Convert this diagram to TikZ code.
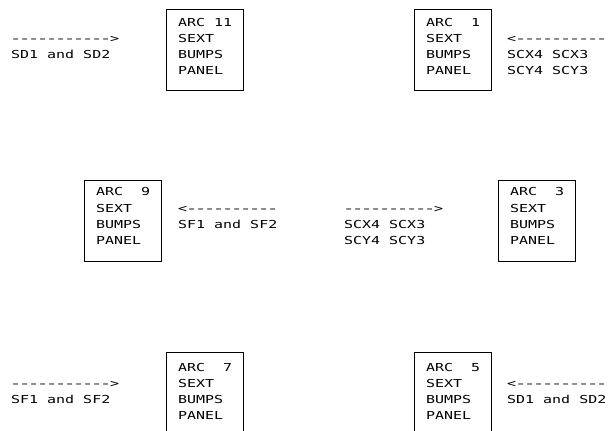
\documentclass[tikz,border=0pt]{standalone}
\usepackage{fontspec}
\usepackage{graphicx}
\newfontfamily\pixfont[FakeStretch=1.36,Ligatures=TeXOff]{DejaVu Sans Mono}
\newcommand{\mlines}[1]{\vtop{\baselineskip=16.3pt\lineskiplimit=-20pt\lineskip=0pt #1}}
\newcommand{\hy}{\makebox[9pt][c]{\scalebox{1.3}[1]{-}}}
\newcommand{\hyten}{\hy\hy\hy\hy\hy\hy\hy\hy\hy\hy}
\tikzset{
  arcbox/.style={draw=black, line width=0.8pt, inner sep=0pt, anchor=north west,
                 minimum width=77pt, minimum height=81pt},
  txt/.style={anchor=base west, inner sep=0pt, text=black,
              font=\pixfont\fontsize{11pt}{16.3pt}\selectfont}
}
\begin{document}
\begin{tikzpicture}[x=1pt,y=-1pt]
\useasboundingbox (0,0) rectangle (608,431);
\fill[white] (0,0) rectangle (608,431);
\clip (0,0) rectangle (608,431);
% boxes
\node[arcbox] (b11) at (166,9) {};
\node[arcbox] (b1)  at (414,9) {};
\node[arcbox] (b9)  at (84,180) {};
\node[arcbox] (b3)  at (498,180) {};
\node[arcbox] (b7)  at (166,352) {};
\node[arcbox] (b5)  at (414,352) {};
% box texts
\node[txt] (t11) at (178,26)    {\mlines{\hbox{ARC 11}\hbox{SEXT}\hbox{BUMPS}\hbox{PANEL}}};
\node[txt] (t1)  at (426,26)    {\mlines{\hbox{ARC~~1}\hbox{SEXT}\hbox{BUMPS}\hbox{PANEL}}};
\node[txt] (t9)  at (96,195.7)  {\mlines{\hbox{ARC~~9}\hbox{SEXT}\hbox{BUMPS}\hbox{PANEL}}};
\node[txt] (t3)  at (510,195.7) {\mlines{\hbox{ARC~~3}\hbox{SEXT}\hbox{BUMPS}\hbox{PANEL}}};
\node[txt] (t7)  at (178,371)   {\mlines{\hbox{ARC~~7}\hbox{SEXT}\hbox{BUMPS}\hbox{PANEL}}};
\node[txt] (t5)  at (426,371)   {\mlines{\hbox{ARC~~5}\hbox{SEXT}\hbox{BUMPS}\hbox{PANEL}}};
% labels (text arrows)
\node[txt] (lTL) at (11,42.3)   {\mlines{\hbox{\hyten\hy>}\hbox{SD1 and SD2}}};
\node[txt] (lTR) at (507,42.3)  {\mlines{\hbox{<\hyten}\hbox{SCX4 SCX3}\hbox{SCY4 SCY3}}};
\node[txt] (lML) at (178,212)   {\mlines{\hbox{<\hyten}\hbox{SF1 and SF2}}};
\node[txt] (lMR) at (344,212)   {\mlines{\hbox{\hyten>}\hbox{SCX4 SCX3}\hbox{SCY4 SCY3}}};
\node[txt] (lBL) at (11,387.3)  {\mlines{\hbox{\hyten\hy>}\hbox{SF1 and SF2}}};
\node[txt] (lBR) at (507,387.3) {\mlines{\hbox{<\hyten}\hbox{SD1 and SD2}}};
\end{tikzpicture}
\end{document}
